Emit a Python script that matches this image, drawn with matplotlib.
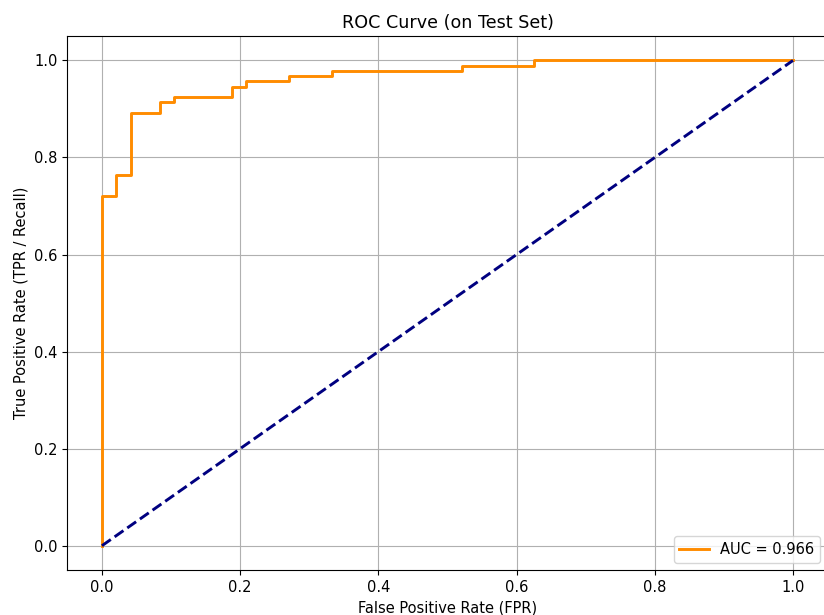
import matplotlib
matplotlib.use("Agg")
import matplotlib.pyplot as plt

# ROC points (corners of the step curve)
fpr = [0.0, 0.0, 0.0208, 0.0208, 0.0417, 0.0417, 0.0833, 0.0833, 0.1042, 0.1042,
       0.1875, 0.1875, 0.2083, 0.2083, 0.2708, 0.2708, 0.3333, 0.3333,
       0.5208, 0.5208, 0.625, 0.625, 1.0]
tpr = [0.0, 0.720, 0.720, 0.763, 0.763, 0.892, 0.892, 0.914, 0.914, 0.925,
       0.925, 0.946, 0.946, 0.957, 0.957, 0.968, 0.968, 0.978,
       0.978, 0.989, 0.989, 1.0, 1.0]
auc = 0.966

plt.rcParams['font.size'] = 10.5

fig = plt.figure(figsize=(8.24, 6.15), dpi=100)
ax = fig.add_axes([0.0818, 0.0732, 0.9225, 0.868])
ax.plot(fpr, tpr, color="darkorange", lw=2.1, label="AUC = %.3f" % auc)
ax.plot([0, 1], [0, 1], color="navy", lw=2.1, linestyle="--")
ax.set_title("ROC Curve (on Test Set)", fontsize=12.6)
ax.set_xlabel("False Positive Rate (FPR)")
ax.set_ylabel("True Positive Rate (TPR / Recall)")
ax.legend(loc="lower right")
ax.grid(True)
fig.savefig("out.png", dpi=100)
